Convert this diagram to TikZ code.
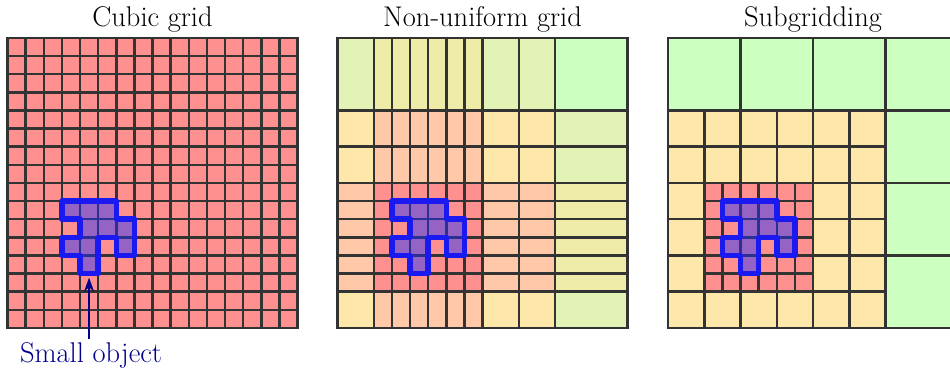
\documentclass[tikz,border=0pt]{standalone}
\usetikzlibrary{arrows.meta}
\definecolor{gridc}{HTML}{333333}
\definecolor{cR}{HTML}{FF9090}
\definecolor{cP}{HTML}{FFC8A8}
\definecolor{cY}{HTML}{FDE8AA}
\definecolor{cK}{HTML}{EFEBA8}
\definecolor{cL}{HTML}{E3F2B5}
\definecolor{cG}{HTML}{CCFFC0}
\definecolor{objblue}{RGB}{26,26,240}
\definecolor{objfill}{RGB}{30,50,255}
\definecolor{navy}{RGB}{0,0,140}
\tikzset{
  gridline/.style={draw=gridc, line width=2.5pt, line cap=rect},
  obj/.style={draw=objblue, line width=5.5pt, line join=round, fill=objfill, fill opacity=0.47},
  ttl/.style={font=\rmfamily\fontsize{28.5}{34}\selectfont, anchor=base, inner sep=0pt},
  lbl/.style={font=\rmfamily\fontsize{28.5}{34}\selectfont, text=navy, anchor=base, inner sep=4pt},
  pointer/.style={draw=navy, line width=2pt, -{Stealth[length=14pt,width=10pt]}, shorten >=4pt},
  panel/.style={x=18.125pt, y=18.125pt}
}
\newcommand\drawobject{\path[obj] (3,7) -- (3,6) -- (4,6) -- (4,5) -- (3,5) -- (3,4) -- (4,4) -- (4,3) -- (5,3) -- (5,5) -- (6,5) -- (6,4) -- (7,4) -- (7,6) -- (6,6) -- (6,7) -- cycle;}
\begin{document}
\begin{tikzpicture}[x=1pt, y=1pt]
\useasboundingbox (0,0) rectangle (950,374);
\clip (0,0) rectangle (950,374);
% titles
\node[ttl] (t1) at (152.5,347) {Cubic grid};
\node[ttl] (t2) at (482.5,347) {Non-uniform grid};
\node[ttl] (t3) at (813,347) {Subgridding};
% panel 1: cubic grid
\begin{scope}[panel, shift={(7.5pt,46pt)}]
  \fill[cR] (0,0) rectangle (16,16);
  \draw[gridline, step=1] (0,0) grid (16,16);
  \draw[gridline] (0,0) rectangle (16,16);
  \drawobject
  \coordinate (objbot) at (4.5,3);
\end{scope}
% panel 2: non-uniform grid
\begin{scope}[panel, shift={(337.5pt,46pt)}]
  \fill[cY] (0,0) rectangle (2,2);
  \fill[cP] (0,2) rectangle (2,8);
  \fill[cY] (0,8) rectangle (2,12);
  \fill[cL] (0,12) rectangle (2,16);
  \fill[cP] (2,0) rectangle (8,2);
  \fill[cR] (2,2) rectangle (8,8);
  \fill[cP] (2,8) rectangle (8,12);
  \fill[cK] (2,12) rectangle (8,16);
  \fill[cY] (8,0) rectangle (12,2);
  \fill[cP] (8,2) rectangle (12,8);
  \fill[cY] (8,8) rectangle (12,12);
  \fill[cL] (8,12) rectangle (12,16);
  \fill[cL] (12,0) rectangle (16,2);
  \fill[cK] (12,2) rectangle (16,8);
  \fill[cL] (12,8) rectangle (16,12);
  \fill[cG] (12,12) rectangle (16,16);
  \foreach \v in {0,2,3,4,5,6,7,8,10,12,16} {
    \draw[gridline] (\v,0) -- (\v,16);
    \draw[gridline] (0,\v) -- (16,\v);
  }
  \drawobject
\end{scope}
% panel 3: subgridding
\begin{scope}[panel, shift={(668pt,46pt)}]
  \fill[cG] (0,0) rectangle (16,16);
  \fill[cY] (0,0) rectangle (12,12);
  \fill[cR] (2,2) rectangle (8,8);
  \draw[gridline, step=2] (0,0) grid (12,12);
  \draw[gridline, step=1] (2,2) grid (8,8);
  \draw[gridline] (0,12) -- (16,12) (12,0) -- (12,16)
    (4,12) -- (4,16) (8,12) -- (8,16) (12,4) -- (16,4) (12,8) -- (16,8);
  \draw[gridline] (0,0) rectangle (16,16);
  \drawobject
\end{scope}
% label and pointer
\node[lbl] (lab) at (91,11) {Small object};
\draw[pointer] (lab.north -| objbot) -- (objbot);
\end{tikzpicture}
\end{document}
